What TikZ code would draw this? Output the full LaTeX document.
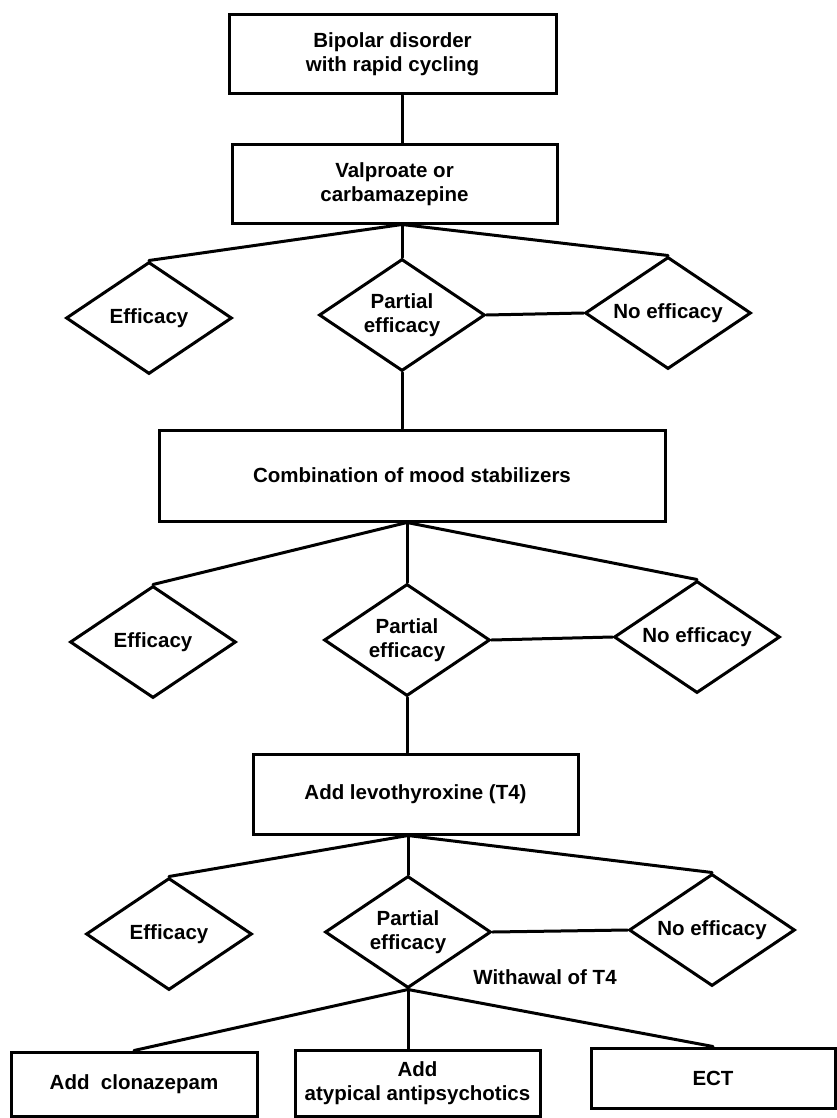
\documentclass[tikz,border=0pt]{standalone}
\usepackage{fontspec}
\setmainfont{Liberation Sans}
\usetikzlibrary{shapes.geometric}
\begin{document}
\begin{tikzpicture}[x=1pt,y=-1pt,
  every node/.style={font=\fontsize{20.5}{24}\selectfont\bfseries, align=center},
  box/.style={draw, line width=3pt, inner sep=0pt},
  decision/.style={draw, diamond, line width=3pt, inner sep=0pt,
    minimum width=166pt, minimum height=112pt, shape aspect=1.5},
  link/.style={line width=3pt, line cap=round, line join=round}]
\useasboundingbox (0,0) rectangle (837,1118);

% treatment steps
\node[box, minimum width=327pt, minimum height=79pt] (b0) at (392.5,54.5) {Bipolar disorder\\with rapid cycling};
\node[box, minimum width=325pt, minimum height=78pt] (b1) at (394.5,184) {Valproate or\\carbamazepine};
\node[box, minimum width=506pt, minimum height=91pt] (b2) at (412,475.5) {Combination of mood stabilizers};
\node[box, minimum width=325pt, minimum height=80pt] (b3) at (415.5,794) {Add levothyroxine (T4)};
\node[box, minimum width=246pt, minimum height=64pt] (b4) at (134,1084) {Add~~clonazepam};
\node[box, minimum width=245pt, minimum height=66pt] (b5) at (417.5,1083) {Add\\atypical antipsychotics};
\node[box, minimum width=244pt, minimum height=60pt] (b6) at (713,1078) {ECT};

% outcomes after each step
\node[decision] (e1) at (149,318) {Efficacy};
\node[decision] (p1) at (402,315) {Partial\\efficacy};
\node[decision] (n1) at (668,313) {No efficacy};

\node[decision] (e2) at (153,642) {Efficacy};
\node[decision] (p2) at (407,640) {Partial\\efficacy};
\node[decision] (n2) at (697,637) {No efficacy};

\node[decision] (e3) at (169,934) {Efficacy};
\node[decision] (p3) at (408,932) {Partial\\efficacy};
\node[decision] (n3) at (712,930) {No efficacy};

\node (wd) at (545,977) {Withawal of T4};

% connectors
\draw[link] (b0.south -| p1.north) -- (b1.north -| p1.north);

\coordinate (f1) at (b1.south -| p1.north);
\draw[link] (f1) -- (e1.north);
\draw[link] (f1) -- (p1.north);
\draw[link] (f1) -- (n1.north);
\draw[link] (p1.east) -- (n1.west);
\draw[link] (p1.south) -- (b2.north -| p1.south);

\coordinate (f2) at (b2.south -| p2.north);
\draw[link] (f2) -- (e2.north);
\draw[link] (f2) -- (p2.north);
\draw[link] (f2) -- (n2.north);
\draw[link] (p2.east) -- (n2.west);
\draw[link] (p2.south) -- (b3.north -| p2.south);

\coordinate (f3) at (b3.south -| p3.north);
\draw[link] (f3) -- (e3.north);
\draw[link] (f3) -- (p3.north);
\draw[link] (f3) -- (n3.north);
\draw[link] (p3.east) -- (n3.west);

\draw[link] (p3.south) -- (b4.north);
\draw[link] (p3.south) -- (b5.north -| p3.south);
\draw[link] (p3.south) -- (b6.north);
\end{tikzpicture}
\end{document}
